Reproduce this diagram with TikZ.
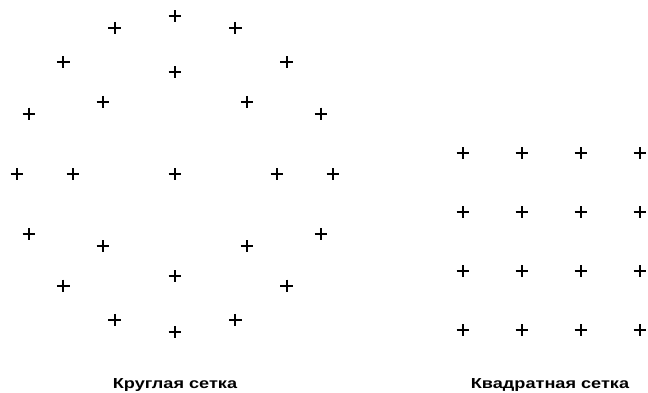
\documentclass[tikz,border=0pt]{standalone}
\usepackage{fontspec}
\setmainfont{Liberation Sans}
\newfontfamily\capfont[FakeStretch=1.25]{Liberation Sans Bold}
\tikzset{
  plusmark/.style={line width=2pt},
  caption/.style={anchor=base, font=\capfont\fontsize{14.5}{17}\selectfont}
}
\newcommand{\plusat}[1]{%
  \draw[plusmark] ($(#1)+(-6.3,0)$) -- ($(#1)+(6.3,0)$);
  \draw[plusmark] ($(#1)+(0,-6)$) -- ($(#1)+(0,6)$);
}
\usetikzlibrary{calc}
\begin{document}
\begin{tikzpicture}[x=1pt,y=-1pt]

\useasboundingbox (0,0) rectangle (648,392);

% Centre de la grille ronde
\coordinate (rc) at (175,174);
\plusat{rc}

% Anneau interieur
\foreach \a in {0,45,...,315}{
  \coordinate (ri) at ($(rc)+(\a:102)$);
  \plusat{ri}
}

% Anneau exterieur
\foreach \a in {0,22.5,...,337.5}{
  \coordinate (ro) at ($(rc)+(\a:158)$);
  \plusat{ro}
}

% Grille carree
\foreach \i in {0,...,3}{
  \foreach \j in {0,...,3}{
    \coordinate (sq) at (463+59*\i,153+59*\j);
    \plusat{sq}
  }
}

% Legendes
\node[caption] (roundlabel) at (175,388) {Круглая сетка};
\node[caption] (squarelabel) at (550,388) {Квадратная сетка};

\end{tikzpicture}
\end{document}
